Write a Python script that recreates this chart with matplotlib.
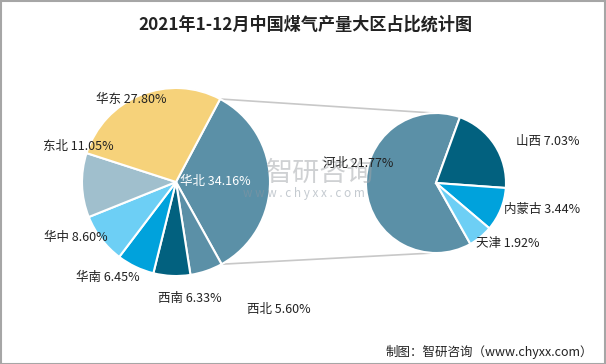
import matplotlib.pyplot as plt
from matplotlib.patches import Rectangle
import numpy as np

plt.rcParams['font.family'] = ['Noto Sans CJK SC', 'DejaVu Sans']

# left pie: regions
regions = ["华北", "西北", "西南", "华南", "华中", "东北", "华东"]
shares = [34.16, 5.60, 6.33, 6.45, 8.60, 11.05, 27.80]
region_colors = ["#5b90a7", "#5b90a7", "#02617f", "#00a2dc", "#6dcff5", "#a0bfcd", "#f6d27a"]

# right pie: breakdown of 华北
provinces = ["河北", "山西", "内蒙古", "天津"]
prov_shares = [21.77, 7.03, 3.44, 1.92]
prov_colors = ["#5b90a7", "#02617f", "#00a2dc", "#6dcff5"]

W, H = 606, 364
fig = plt.figure(figsize=(W / 100, H / 100), dpi=100)
ax = fig.add_axes([0, 0, 1, 1])

c1, r1 = (176, 364 - 182), 94
c2, r2 = (436, 364 - 183), 70

w1, _ = ax.pie(shares, colors=region_colors, startangle=62, counterclock=False,
               center=c1, radius=r1, wedgeprops=dict(edgecolor="white", linewidth=1.5))
# 河北 ends at ~70 deg so that 山西 starts there going clockwise
start2 = 70 + 360 * prov_shares[0] / sum(prov_shares)
w2, _ = ax.pie(prov_shares, colors=prov_colors, startangle=start2, counterclock=False,
               center=c2, radius=r2, wedgeprops=dict(edgecolor="white", linewidth=1.5))

ax.set_xlim(0, W)
ax.set_ylim(0, H)
ax.set_aspect("equal")
ax.axis("off")

# connector lines from 华北 wedge edges to the second pie
hb = w1[0]
for ang, ydir in [(hb.theta2, 1), (hb.theta1, -1)]:
    a = np.deg2rad(ang)
    x0, y0 = c1[0] + r1 * np.cos(a), c1[1] + r1 * np.sin(a)
    ax.plot([x0, c2[0] - 3], [y0, c2[1] + ydir * r2], color="#c8c8c8", lw=1.2, zorder=0)

# watermark
ax.text(320, H - 173, "智研咨询", ha="center", va="center", fontsize=19.5, color="#a0a4a8", alpha=0.5)
ax.text(304, H - 194, "w w w . c h y x x . c o m", ha="center", va="center", fontsize=8.5,
        color="#8a96a2", alpha=0.5)

# labels
lab_pos = {
    "华东": (131, 99), "华北": (215, 182), "东北": (78, 146), "华中": (76, 237),
    "华南": (108, 277), "西南": (190, 298), "西北": (279, 310),
}
for name, v in zip(regions, shares):
    x, y = lab_pos[name]
    col = "white" if name == "华北" else "#222222"
    ax.text(x, H - y, f"{name} {v:.2f}%", ha="center", va="center", fontsize=9, color=col)

prov_pos = {"河北": (358, 163), "山西": (548, 141), "内蒙古": (542, 209), "天津": (508, 243)}
for name, v in zip(provinces, prov_shares):
    x, y = prov_pos[name]
    ax.text(x, H - y, f"{name} {v:.2f}%", ha="center", va="center", fontsize=9, color="#222222")

fig.text(0.5 + 2 / W, 1 - 25 / H, "2021年1-12月中国煤气产量大区占比统计图", ha="center", va="center",
         fontsize=12.3, fontweight="bold", color="#222222")
fig.text(1 - 13 / W, 1 - 352 / H, "制图：智研咨询（www.chyxx.com）", ha="right", va="center",
         fontsize=9, color="#222222")

fig.patches.append(Rectangle((0.5 / W, 0.5 / H), 1 - 1.5 / W, 1 - 1.5 / H, transform=fig.transFigure,
                             fill=False, edgecolor="#a6a6a6", lw=1.5))

fig.savefig("out.png", dpi=100)
